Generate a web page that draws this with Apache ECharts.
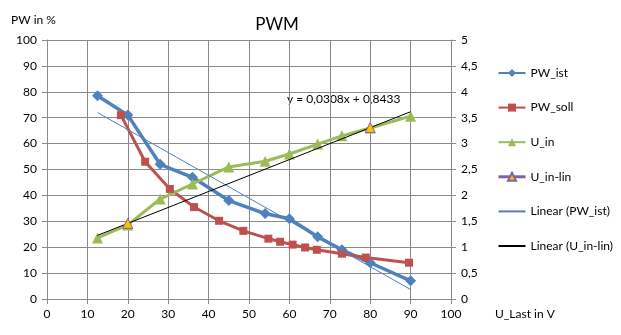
<!DOCTYPE html>
<html><head><meta charset="utf-8">
<script src="https://cdn.jsdelivr.net/npm/echarts@6/dist/echarts.min.js"></script>
<style>html,body{margin:0;padding:0;background:#fff}#c{width:621px;height:335px}</style>
</head><body><div id="c"></div>
<script>
const xLast = [12.5, 20, 28, 36, 45, 54, 60, 67, 73, 80, 90];
const pwIst = [78.5, 71, 52, 47, 38, 33, 31, 24, 19, 14, 7];
const sollX = [18.3, 24.3, 30.4, 36.4, 42.6, 48.6, 54.8, 57.7, 60.8, 63.9, 66.8, 73, 78.9, 89.6];
const pwSoll = [71, 53, 42.5, 35.5, 30.2, 26.3, 23.3, 22.1, 21, 19.9, 19, 17.5, 16, 14];
const uIn = [1.18, 1.43, 1.93, 2.22, 2.55, 2.66, 2.8, 2.99, 3.15, 3.3, 3.53];
const linX = [20, 80];
const uInLin = [1.46, 3.31];
const trendSlope = 0.0308, trendIntercept = 0.8433;
const trendRange = [12.5, 90];
const leftTicks = [0,10,20,30,40,50,60,70,80,90,100];
const rightTicks = ['0','0,5','1','1,5','2','2,5','3','3,5','4','4,5','5'];

// least squares for PW_ist
const n = xLast.length;
const mx = xLast.reduce((a,b)=>a+b,0)/n, my = pwIst.reduce((a,b)=>a+b,0)/n;
let sxy=0,sxx=0; for(let i=0;i<n;i++){sxy+=(xLast[i]-mx)*(pwIst[i]-my);sxx+=(xLast[i]-mx)**2;}
const b1 = sxy/sxx, b0 = my - b1*mx;
const zip = (a,b)=>a.map((v,i)=>[v,b[i]]);

const FONT = 'Lato';
const chart = echarts.init(document.getElementById('c'), null, {renderer:'canvas'});
const gridCol = '#8a8a8a';
chart.setOption({
  animation:false,
  textStyle:{fontFamily:FONT},
  title:{text:'PWM', left:272, top:11, textAlign:'center', textStyle:{fontFamily:FONT, fontSize:17, fontWeight:'normal', color:'#000'}},
  grid:{left:47, top:40, right:170, bottom:36},
  legend:{
    orient:'vertical', left:497, top:67, padding:0, itemWidth:27, itemHeight:10, itemGap:22.6,
    textStyle:{fontFamily:FONT, fontSize:12, color:'#000'},
    data:[
      {name:'PW_ist'},{name:'PW_soll'},{name:'U_in'},
      {name:'U_in-lin', lineStyle:{color:'#8064A2', width:3, opacity:1}},
      {name:'Linear (PW_ist)', itemStyle:{opacity:0}},
      {name:'Linear (U_in-lin)', itemStyle:{opacity:0}}
    ]
  },
  xAxis:{type:'value', min:0, max:100, interval:10,
    axisLine:{show:true, lineStyle:{color:gridCol}},
    axisTick:{show:true, length:5, lineStyle:{color:gridCol}},
    axisLabel:{color:'#000', fontSize:12, margin:9, fontFamily:FONT},
    splitLine:{show:true, lineStyle:{color:gridCol, width:1}},
    name:'U_Last in V', nameLocation:'end', nameGap:0,
    nameTextStyle:{fontFamily:FONT, fontSize:12, color:'#000', align:'left', verticalAlign:'top', padding:[9,0,0,44]}
  },
  yAxis:[
    {type:'value', min:0, max:100, interval:10,
      axisLine:{show:true, lineStyle:{color:gridCol}},
      axisTick:{show:true, length:5, lineStyle:{color:gridCol}},
      axisLabel:{color:'#000', fontSize:12, margin:10, fontFamily:FONT, formatter:v=>String(leftTicks[Math.round(v/10)])},
      splitLine:{show:true, lineStyle:{color:gridCol, width:1}},
      name:'PW in %', nameLocation:'end', nameGap:14,
      nameTextStyle:{fontFamily:FONT, fontSize:12, color:'#000', align:'left', padding:[0,0,0,-36]}
    },
    {type:'value', min:0, max:5, interval:0.5, position:'right',
      axisLine:{show:true, lineStyle:{color:gridCol}},
      axisTick:{show:true, length:5, lineStyle:{color:gridCol}},
      axisLabel:{color:'#000', fontSize:12, margin:10, fontFamily:FONT, formatter:v=>rightTicks[Math.round(v*2)]},
      splitLine:{show:false}
    }
  ],
  series:[
    {name:'PW_ist', type:'line', data:zip(xLast,pwIst), yAxisIndex:0, symbol:'diamond', symbolSize:11,
      lineStyle:{color:'#4F81BD', width:3.5}, itemStyle:{color:'#4F81BD'}, z:3},
    {name:'PW_soll', type:'line', data:zip(sollX,pwSoll), yAxisIndex:0, symbol:'rect', symbolSize:8,
      lineStyle:{color:'#C0504D', width:3}, itemStyle:{color:'#C0504D'}, z:3},
    {name:'U_in', type:'line', data:zip(xLast,uIn), yAxisIndex:1, symbol:'triangle', symbolSize:11,
      lineStyle:{color:'#9BBB59', width:3}, itemStyle:{color:'#9BBB59'}, z:3},
    {name:'U_in-lin', type:'line', data:zip(linX,uInLin), yAxisIndex:1, symbol:'triangle', symbolSize:10,
      lineStyle:{color:'#8064A2', width:0, opacity:0}, itemStyle:{color:'#FFC000', borderColor:'#8064A2', borderWidth:1}, z:5},
    {name:'Linear (PW_ist)', type:'line', yAxisIndex:0, symbol:'none',
      data:trendRange.map(x=>[x, b0 + b1*x]),
      lineStyle:{color:'#4F81BD', width:1}, itemStyle:{color:'#4F81BD'}, z:4},
    {name:'Linear (U_in-lin)', type:'line', yAxisIndex:1, symbol:'none',
      data:trendRange.map(x=>[x, trendIntercept + trendSlope*x]),
      lineStyle:{color:'#000', width:1}, itemStyle:{color:'#000'}, z:4}
  ],
  graphic:[{type:'text', left:287, top:93, style:{text:'y = 0,0308x + 0,8433', fontFamily:FONT, fontSize:12, fill:'#000'}}]
});
</script></body></html>
